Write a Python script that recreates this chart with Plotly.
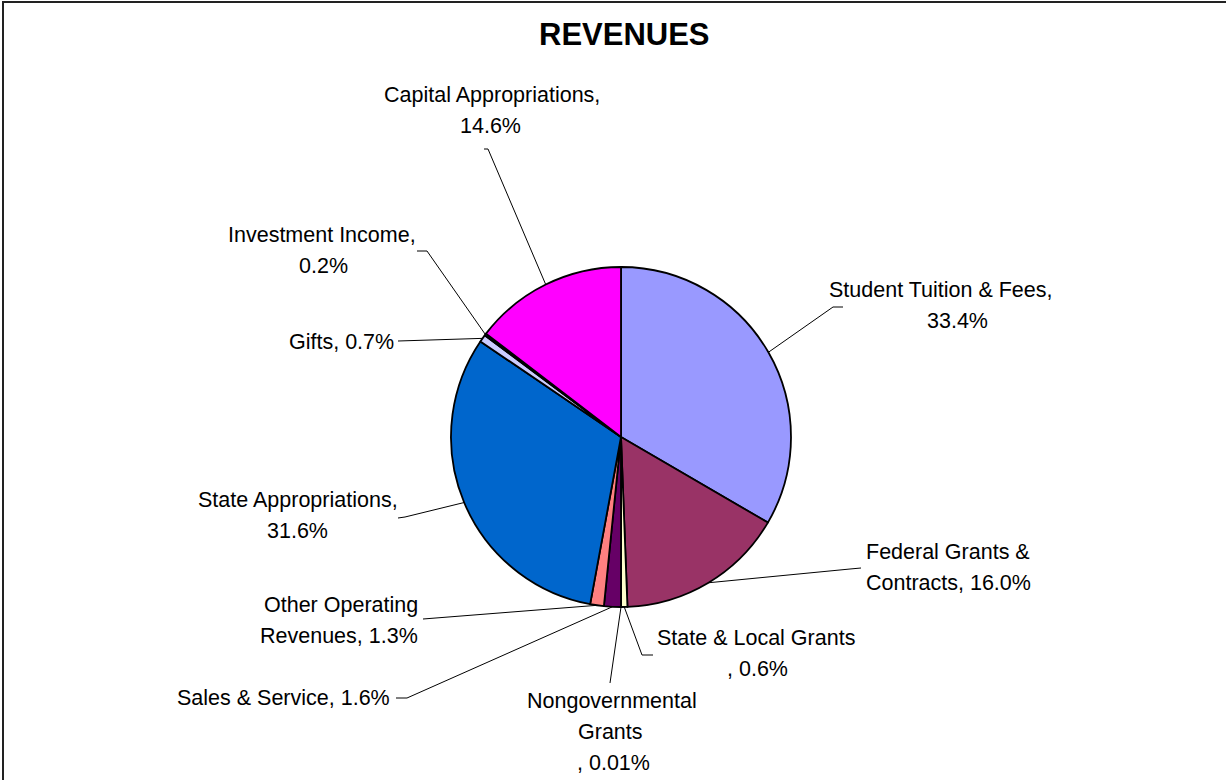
import numpy as np
import plotly.graph_objects as go

# slices, clockwise from 12 o'clock
categories = ["Student Tuition & Fees", "Federal Grants & Contracts", "State & Local Grants",
              "Nongovernmental Grants", "Sales & Service", "Other Operating Revenues",
              "State Appropriations", "Gifts", "Investment Income", "Capital Appropriations"]
shares = [33.4, 16.0, 0.6, 0.01, 1.6, 1.3, 31.6, 0.7, 0.2, 14.6]
label_lines = [
    ["Student Tuition & Fees,", "33.4%"],
    ["Federal Grants &", "Contracts, 16.0%"],
    ["State & Local Grants", ", 0.6%"],
    ["Nongovernmental", "Grants", ", 0.01%"],
    ["Sales & Service, 1.6%"],
    ["Other Operating", "Revenues, 1.3%"],
    ["State Appropriations,", "31.6%"],
    ["Gifts, 0.7%"],
    ["Investment Income,", "0.2%"],
    ["Capital Appropriations,", "14.6%"],
]
colors = ["#9999FF", "#993366", "#FFFFCC", "#CCFFFF", "#660066",
          "#FF8080", "#0066CC", "#CCCCFF", "#000080", "#FF00FF"]

# page layout in pixels (1226 x 780)
W, H = 1226, 780
CX, CY, R = 621, 437, 170
FONT = "Liberation Sans, Arial, sans-serif"
LINE_GAP = 31

# where each label's text goes: (x, y of first line, xanchor, per-line x shifts)
label_pos = [
    (941, 290, "center", [0, 16]),
    (948, 552, "center", [0, 0]),
    (756, 638, "center", [0, 1]),
    (612, 701, "center", [0, -2, 1]),
    (392, 698, "right", [0]),
    (420, 605, "right", [0, 0]),
    (298, 500, "center", [0, -1]),
    (396, 342, "right", [0]),
    (322, 235, "center", [0, 1]),
    (492, 95, "center", [0, -2]),
]
# leader line start near the label (may have a short horizontal piece)
leader_start = [
    [(843, 307), (833, 307)],
    [(861, 568), (850, 569)],
    [(653, 655), (642, 655)],
    [(610, 683)],
    [(396, 698), (407, 698)],
    [(423, 619)],
    [(398, 518), (405, 517)],
    [(398, 341)],
    [(417, 251), (427, 251)],
    [(484, 149), (488, 149)],
]

total = sum(shares)
cum = np.cumsum([0] + shares[:-1])
mid_angle = np.radians((cum + np.array(shares) / 2) / total * 360)
edge_x = CX + R * np.sin(mid_angle)
edge_y = CY - R * np.cos(mid_angle)

fig = go.Figure()

lx, ly = [], []
for i, pts in enumerate(leader_start):
    for px, py in pts:
        lx.append(px)
        ly.append(py)
    lx += [edge_x[i], None]
    ly += [edge_y[i], None]
fig.add_trace(go.Scatter(x=lx, y=ly, mode="lines", line=dict(color="black", width=1),
                         hoverinfo="skip", showlegend=False))

fig.add_trace(go.Pie(
    labels=categories, values=shares, sort=False, direction="clockwise", rotation=0,
    marker=dict(colors=colors, line=dict(color="black", width=1.8)),
    textinfo="none", showlegend=False,
    domain=dict(x=[(CX - R) / W, (CX + R) / W], y=[1 - (CY + R) / H, 1 - (CY - R) / H]),
))

annotations = []
for lines, (x0, y0, anchor, shifts) in zip(label_lines, label_pos):
    for j, txt in enumerate(lines):
        annotations.append(dict(
            x=x0 + shifts[j], y=y0 + j * LINE_GAP, xref="x", yref="y", text=txt,
            showarrow=False, xanchor=anchor, yanchor="middle",
            font=dict(family=FONT, size=21.5, color="black"),
        ))
annotations.append(dict(
    x=624, y=34, xref="x", yref="y", text="<b>REVENUES</b>", showarrow=False,
    xanchor="center", yanchor="middle", font=dict(family=FONT, size=31, color="black"),
))

fig.update_layout(
    width=W, height=H, margin=dict(l=0, r=0, t=0, b=0),
    paper_bgcolor="white", plot_bgcolor="white",
    xaxis=dict(range=[0, W], visible=False, fixedrange=True),
    yaxis=dict(range=[H, 0], visible=False, fixedrange=True),
    annotations=annotations,
    shapes=[dict(type="rect", xref="x", yref="y", x0=3, y0=2, x1=W + 20, y1=H + 20,
                 line=dict(color="#222222", width=2))],
)

# drop the page's default body margin so the figure sits at the window corner
fig.write_html("out.html", config={"displayModeBar": False},
               post_script="document.body.style.margin='0';")
